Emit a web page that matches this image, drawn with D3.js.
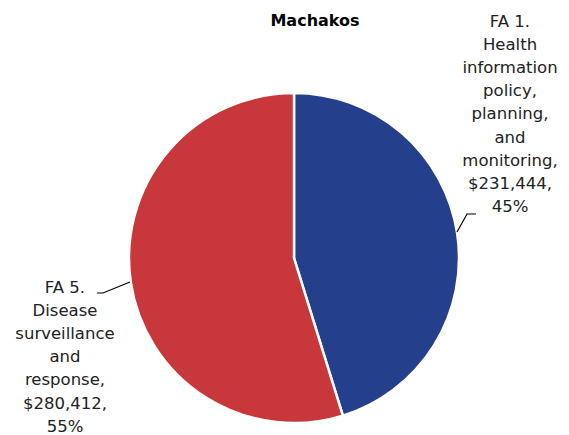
<!DOCTYPE html>
<html><head><meta charset="utf-8">
<script src="https://cdn.jsdelivr.net/npm/d3@7"></script>
<style>body{margin:0;background:#fff}svg{display:block}</style>
</head><body>
<script>
const categories = ["FA 1. Health information policy, planning, and monitoring", "FA 5. Disease surveillance and response"];
const values = [231444, 280412];
const colors = ["#243F8B", "#C8373A"];
const labelLines = [
  ["FA 1.", "Health", "information", "policy,", "planning,", "and", "monitoring,", "$231,444,", "45%"],
  ["FA 5.", "Disease", "surveillance", "and", "response,", "$280,412,", "55%"]
];
const title = "Machakos";

const W = 569, H = 435;
const svg = d3.select("body").append("svg").attr("width", W).attr("height", H);
const font = "'DejaVu Sans', sans-serif";

svg.append("text").attr("x", 315).attr("y", 26).attr("text-anchor", "middle")
  .attr("font-family", font).attr("font-weight", "bold").attr("font-size", 16).text(title);

const cx = 294, cy = 258, r = 165;
const pie = d3.pie().sort(null).value(d => d);
const arcs = pie(values);
const arc = d3.arc().innerRadius(0).outerRadius(r);
const g = svg.append("g").attr("transform", `translate(${cx},${cy})`);
g.selectAll("path").data(arcs).join("path")
  .attr("d", arc).attr("fill", (d, i) => colors[i])
  .attr("stroke", "#fff").attr("stroke-width", 2.5);

// label blocks
const blocks = [
  {x: 510, y0: 27, anchorPt: [163, -26], mid: [173, -44], end: [182, -44]},
  {x: 65, y0: 293, anchorPt: [-164, 24], mid: [-191, 35], end: [-197, 35]}
];
blocks.forEach((b, i) => {
  const t = svg.append("text").attr("text-anchor", "middle")
    .attr("font-family", font).attr("font-size", 16.5).attr("fill", "#222");
  labelLines[i].forEach((ln, k) => {
    t.append("tspan").attr("x", b.x).attr("y", b.y0 + k * 23.1).text(ln);
  });
  g.append("polyline").attr("points", [b.anchorPt, b.mid, b.end].map(p => p.join(",")).join(" "))
    .attr("fill", "none").attr("stroke", "#000").attr("stroke-width", 1.2);
});
</script>
</body></html>
